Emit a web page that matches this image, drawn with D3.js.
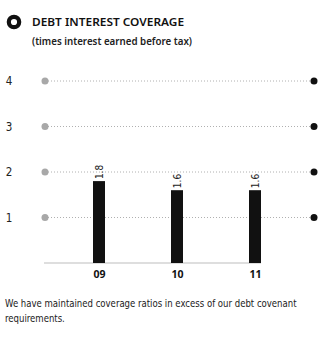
<!DOCTYPE html>
<html>
<head>
<meta charset="utf-8">
<script src="https://cdn.jsdelivr.net/npm/d3@7/dist/d3.min.js"></script>
<style>
  html, body { margin: 0; padding: 0; background: #fff; }
  svg { display: block; }
</style>
</head>
<body>
<script>
// Debt interest coverage, times interest earned before tax
const years = ["09", "10", "11"];
const coverage = [1.8, 1.6, 1.6];
const yTicks = [1, 2, 3, 4];
const title = "DEBT INTEREST COVERAGE";
const subtitle = "(times interest earned before tax)";
const noteLines = [
  "We have maintained coverage ratios in excess of our debt covenant",
  "requirements."
];

const W = 330, H = 350;
const svg = d3.select("body").append("svg").attr("width", W).attr("height", H);

const condensed = "'DejaVu Sans Condensed', 'DejaVu Sans', sans-serif";
const heading = "'Noto Sans', 'Open Sans', sans-serif";

// Heading with ring icon
svg.append("circle").attr("cx", 14).attr("cy", 22).attr("r", 5.2)
  .attr("fill", "none").attr("stroke", "#111").attr("stroke-width", 4.2);
svg.append("text").attr("x", 32).attr("y", 26)
  .attr("font-family", heading).attr("font-size", 11).attr("font-weight", 600)
  .attr("fill", "#111").attr("textLength", 152).attr("lengthAdjust", "spacingAndGlyphs")
  .text(title);
svg.append("text").attr("x", 32).attr("y", 45)
  .attr("font-family", heading).attr("font-size", 10.5).attr("font-weight", 600)
  .attr("fill", "#222").attr("textLength", 160).attr("lengthAdjust", "spacingAndGlyphs")
  .text(subtitle);

// Scales
const y = d3.scaleLinear().domain([0, 4]).range([263, 81]);
const x = d3.scalePoint().domain(years).range([99, 255]);
const gridLeft = 45, gridRight = 314;
const barW = 12;

// Gridlines with end dots
const grid = svg.append("g");
grid.selectAll("line").data(yTicks).join("line")
  .attr("x1", gridLeft).attr("x2", gridRight)
  .attr("y1", d => y(d)).attr("y2", d => y(d))
  .attr("stroke", "#b0b0b0").attr("stroke-width", 1)
  .attr("stroke-dasharray", "1,2");
grid.selectAll("circle.l").data(yTicks).join("circle").attr("class", "l")
  .attr("cx", gridLeft).attr("cy", d => y(d)).attr("r", 3.5).attr("fill", "#a8a8a8");
grid.selectAll("circle.r").data(yTicks).join("circle").attr("class", "r")
  .attr("cx", gridRight).attr("cy", d => y(d)).attr("r", 3.5).attr("fill", "#111");

// Y axis labels
const yAxis = svg.append("g").attr("transform", "translate(10,0)")
  .call(d3.axisLeft(y).tickValues(yTicks).tickSize(0).tickPadding(0).tickFormat(d3.format("d")));
yAxis.select(".domain").remove();
yAxis.selectAll("text")
  .attr("text-anchor", "middle").attr("x", -1)
  .attr("font-family", condensed).attr("font-size", 11.5).attr("fill", "#222");

// Baseline
svg.append("line")
  .attr("x1", gridLeft - 1).attr("x2", x(years[years.length - 1]) + barW / 2)
  .attr("y1", y(0)).attr("y2", y(0))
  .attr("stroke", "#bdbdbd").attr("stroke-width", 1.2);

// Bars
svg.append("g").selectAll("rect").data(coverage).join("rect")
  .attr("x", (d, i) => x(years[i]) - barW / 2)
  .attr("y", d => y(d))
  .attr("width", barW)
  .attr("height", d => y(0) - y(d))
  .attr("fill", "#111");

// Value labels, rotated to read upward from the top of each bar
svg.append("g").selectAll("text").data(coverage).join("text")
  .attr("transform", (d, i) => `translate(${x(years[i]) + 3.5},${y(d) - 2}) rotate(-90)`)
  .attr("text-anchor", "start")
  .attr("font-family", condensed).attr("font-size", 10).attr("fill", "#222")
  .text(d => d3.format(".1f")(d));

// Year labels
const xAxis = svg.append("g").attr("transform", `translate(0,${y(0)})`)
  .call(d3.axisBottom(x).tickSize(0).tickPadding(8));
xAxis.select(".domain").remove();
xAxis.selectAll("text")
  .attr("font-family", heading).attr("font-size", 10.5).attr("font-weight", 700)
  .attr("fill", "#111");

// Note, squeezed horizontally so the first line spans the chart width
const noteWidth = 292;
const note = svg.append("g");
const noteText = note.selectAll("text").data(noteLines).join("text")
  .attr("x", 0).attr("y", (d, i) => 307 + i * 15)
  .attr("font-family", condensed).attr("font-size", 11).attr("fill", "#222")
  .text(d => d);
const natural = d3.max(noteText.nodes(), n => n.getComputedTextLength());
note.attr("transform", `translate(5,0) scale(${noteWidth / natural},1)`);
</script>
</body>
</html>
